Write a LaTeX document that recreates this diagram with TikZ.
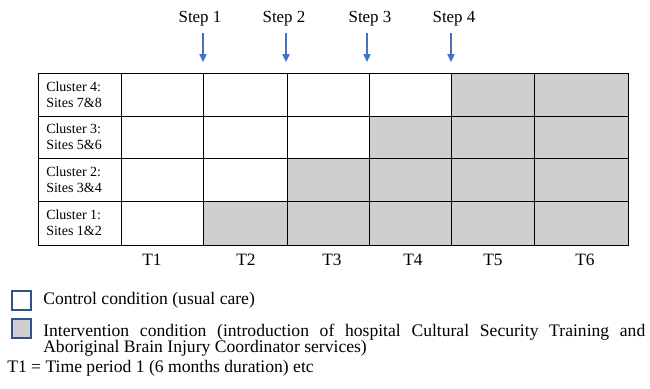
\documentclass[tikz,border=0pt]{standalone}
\usepackage{fontspec}
\setmainfont{Liberation Serif}
\usetikzlibrary{arrows.meta}
\definecolor{shadegray}{HTML}{D0CECE}
\definecolor{stepblue}{HTML}{4472C4}
\definecolor{boxblue}{HTML}{2F528F}
\begin{document}
\begin{tikzpicture}
[x=0.75pt,y=-0.75pt,
  shadedecorate/.style={fill=shadegray},
  griddecorate/.style={draw=black,line width=0.75pt},
  clusterdecorate/.style={anchor=west,inner sep=0pt,align=left,font=\fontsize{10.5pt}{12pt}\selectfont},
  timedecorate/.style={inner sep=0pt,font=\fontsize{13pt}{13pt}\selectfont},
  stepdecorate/.style={inner sep=0pt,font=\fontsize{12.7pt}{13pt}\selectfont},
  arrowdecorate/.style={-{Triangle[length=6pt,width=5.5pt]},draw=stepblue,fill=stepblue,line width=0.9pt},
  boxdecorate/.style={shape=rectangle,draw=boxblue,line width=1pt,minimum size=14.25pt,inner sep=0pt},
  legenddecorate/.style={inner sep=0pt,font=\fontsize{13.2pt}{12.5pt}\selectfont}]
\useasboundingbox (0,0) rectangle (650,389);
%% shaded cells
\foreach \xleft/\ytop/\ybot in {451/73/116, 369/116/158, 287/158/201, 203/201/245} {
  \path[shadedecorate] (\xleft,\ytop) rectangle (628,\ybot);
}
%% grid lines
\draw[griddecorate] (38,73) rectangle (628,245);
\foreach \y in {116,158,201} {
  \draw[griddecorate] (38,\y) -- (628,\y);
}
\foreach \x in {121,203,287,369,451,534} {
  \draw[griddecorate] (\x,73) -- (\x,245);
}
%% cluster labels
\foreach \nodename/\y/\num/\sites in {cl4/94.5/4/7\&8, cl3/137/3/5\&6, cl2/179.5/2/3\&4, cl1/223/1/1\&2} {
  \node (\nodename) at (46,\y) [clusterdecorate] {Cluster \num:\\Sites \sites};
}
%% time periods
\foreach \nodename/\x in {T1/152, T2/246, T3/332, T4/413, T5/493, T6/585} {
  \node (\nodename) at (\x,260) [timedecorate] {\nodename};
}
%% steps and arrows
\foreach \num/\x/\ax in {1/200/203, 2/284/286, 3/370/367, 4/454/451} {
  \node (step\num) at (\x,19) [stepdecorate] {Step \num};
  \coordinate (top\num) at (\ax,33);
  \coordinate (tip\num) at (\ax,62);
}
\path
\foreach \num in {1,2,3,4} {
  (top\num) edge[arrowdecorate] (tip\num)
};
%% legend
\node (controlbox) at (21.5,300.5) [boxdecorate,fill=white] {};
\node (interbox) at (21.5,328.5) [boxdecorate,fill=shadegray] {};
\node (controltext) at (43,300.5) [legenddecorate,anchor=west] {Control condition (usual care)};
\node (intertext) at (43,323.5) [legenddecorate,anchor=north west,text width=451.5pt,align=justify]
  {Intervention condition (introduction of hospital Cultural Security Training and\linebreak Aboriginal Brain Injury Coordinator services)};
\node (periodtext) at (7,368.5) [legenddecorate,anchor=west] {T1 = Time period 1 (6 months duration) etc};
\end{tikzpicture}
\end{document}
